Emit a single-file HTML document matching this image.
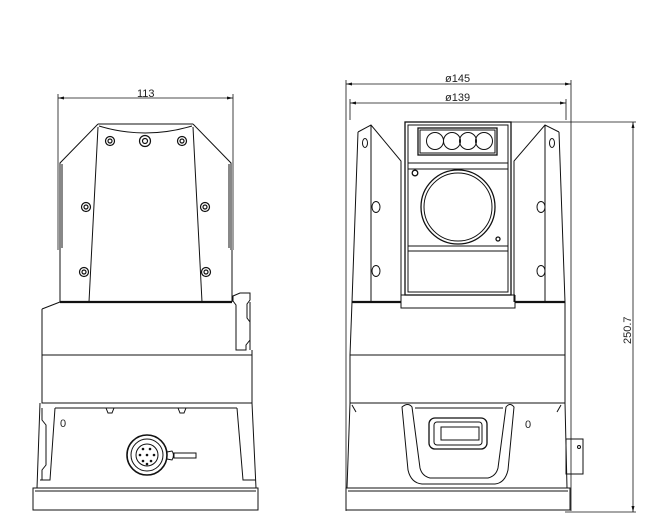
<!DOCTYPE html>
<html><head><meta charset="utf-8"><style>
html,body{margin:0;padding:0;background:#fff;width:662px;height:524px;overflow:hidden}
svg{display:block}
text{font-family:"Liberation Sans",sans-serif;font-size:11px;fill:#222}
</style></head><body>
<svg width="662" height="524" viewBox="0 0 662 524" xmlns="http://www.w3.org/2000/svg" fill="none" stroke="#111" stroke-width="1">
<!-- LEFT VIEW -->
<line x1="58" y1="98" x2="233" y2="98" stroke-width="0.8"/>
<line x1="58" y1="94" x2="58" y2="250" stroke-width="0.8"/>
<line x1="233" y1="94" x2="233" y2="250" stroke-width="0.8"/>
<path d="M58 98 l6 -1.5 v3 z M233 98 l-6 -1.5 v3 z" fill="#111" stroke="none"/>
<text x="137" y="97" stroke="none">113</text>
<!-- top cap -->
<path d="M98 124 H193 M99 126 Q145 140 192 126"/>
<path d="M98 124 L60 163 V250 M62 164 V248"/>
<path d="M193 124 L231 163 V250 M229 164 V248"/>
<path d="M60 250 V302 M232 250 V302"/>
<path d="M98 127 L89 302 M193 127 L202 302"/>
<line x1="60" y1="302" x2="232" y2="302" stroke-width="2.2"/>
<path d="M42 309 L60 302"/>
<g stroke-width="1.2">
<circle cx="110" cy="141" r="4.5"/><circle cx="110" cy="141" r="2"/>
<circle cx="145" cy="141" r="5.5"/><circle cx="145" cy="141" r="2.5"/>
<circle cx="182" cy="141" r="4.5"/><circle cx="182" cy="141" r="2"/>
<circle cx="86" cy="207" r="4.5"/><circle cx="86" cy="207" r="2"/>
<circle cx="205" cy="207" r="4.5"/><circle cx="205" cy="207" r="2"/>
<circle cx="84" cy="272" r="4.5"/><circle cx="84" cy="272" r="2"/>
<circle cx="206" cy="272" r="4.5"/><circle cx="206" cy="272" r="2"/>
</g>
<!-- clip -->
<path d="M233 296 L240 293 H250 V300 L247 304 V318 L250 322 V340 L246 345 V350 H236 V305 L233 301 Z"/>
<!-- middle -->
<path d="M42 309 V403 H252 V350 M42 355 H252"/>
<path d="M250 302 V350"/>
<!-- lower -->
<path d="M40 403 L37 488 M252 403 L256 488"/>
<path d="M55 408 L50 480 H40 M237 408 L243 480 H256"/>
<path d="M55 408 H237"/>
<path d="M106 408 L108 413 H112 L114 408 M178 408 L180 413 H184 L186 408"/>
<path d="M42 408 V420 L46 425 V465 L42 470 V480"/>
<text x="60" y="427" stroke="none" font-size="9">0</text>
<circle cx="147" cy="455" r="20" stroke-width="1.6"/>
<circle cx="147" cy="455" r="16"/>
<circle cx="147" cy="455" r="11"/>
<g fill="#111" stroke="none">
<circle cx="143" cy="449" r="1.3"/><circle cx="150" cy="449" r="1.3"/><circle cx="154" cy="455" r="1.3"/>
<circle cx="140" cy="455" r="1.3"/><circle cx="147" cy="455" r="1.3"/><circle cx="143" cy="461" r="1.3"/>
<circle cx="151" cy="461" r="1.3"/><circle cx="147" cy="464" r="1.3"/>
</g>
<path d="M167 452 L172 451 Q175 455 172 460 L167 459"/>
<rect x="174" y="453" width="22" height="5"/>
<path d="M33 488 H258 V510 H33 Z M35 491 H256" />
<!-- RIGHT VIEW -->
<line x1="346" y1="84" x2="571" y2="84" stroke-width="0.8"/>
<line x1="350" y1="103" x2="566" y2="103" stroke-width="0.8"/>
<path d="M346 84 l6 -1.5 v3z M571 84 l-6 -1.5 v3z M350 103 l6 -1.5 v3z M566 103 l-6 -1.5 v3z" fill="#111" stroke="none"/>
<text x="445" y="82" stroke="none">ø145</text>
<text x="445" y="101" stroke="none">ø139</text>
<line x1="346" y1="80" x2="346" y2="511" stroke-width="0.8"/>
<line x1="571" y1="80" x2="571" y2="511" stroke-width="0.8"/>
<line x1="350" y1="99" x2="350" y2="120" stroke-width="0.8"/>
<line x1="566" y1="99" x2="566" y2="120" stroke-width="0.8"/>
<line x1="510" y1="122" x2="636" y2="122" stroke-width="0.8"/>
<line x1="633" y1="122" x2="633" y2="512" stroke-width="0.8"/>
<line x1="565" y1="512" x2="636" y2="512" stroke-width="0.8"/>
<path d="M633 122 l-1.5 6 h3z M633 512 l-1.5 -6 h3z" fill="#111" stroke="none"/>
<text x="0" y="0" stroke="none" transform="translate(631 344) rotate(-90)">250.7</text>
<!-- wings -->
<path d="M358 132 L371 125 L401 161 V302 M371 125 V302 M358 132 L352 302"/>
<path d="M559 132 L545 125 L514 161 V302 M545 125 V302 M559 132 L565 302"/>
<ellipse cx="365" cy="143" rx="2.5" ry="4.5"/>
<ellipse cx="376" cy="207" rx="4" ry="5.5"/>
<ellipse cx="376" cy="271" rx="4" ry="5.5"/>
<ellipse cx="552" cy="143" rx="2.5" ry="4.5"/>
<ellipse cx="541" cy="207" rx="4" ry="5.5"/>
<ellipse cx="541" cy="271" rx="4" ry="5.5"/>
<!-- head -->
<rect x="405" y="122" width="106" height="173" stroke-width="1.3"/>
<rect x="408" y="125" width="100" height="167"/>
<rect x="418" y="128" width="79" height="27" stroke-width="1.3"/>
<rect x="420" y="130" width="75" height="23"/>
<circle cx="435" cy="141" r="8.5"/><circle cx="452" cy="141" r="8.5"/><circle cx="468" cy="141" r="8.5"/><circle cx="484" cy="141" r="8.5"/>
<path d="M408 163 H508 M408 169 H508 M408 246 H508 M408 251 H508"/>
<circle cx="458" cy="207" r="37" stroke-width="1.3"/>
<circle cx="458" cy="207" r="34"/>
<circle cx="415" cy="173" r="2.8" stroke-width="1.3"/>
<circle cx="498" cy="239" r="2" stroke-width="1.3"/>
<path d="M401 295 H515 M401 295 V308 H515 V295"/>
<line x1="352" y1="302" x2="401" y2="302" stroke-width="2.2"/>
<line x1="515" y1="302" x2="565" y2="302" stroke-width="2.2"/>
<!-- middle -->
<path d="M352 302 L350 355 V403 H565 V355 L565 302 M350 355 H565"/>
<!-- lower -->
<path d="M350 403 L347 488 M565 403 L567 488"/>
<path d="M352 405 L356 412 M561 405 L557 412"/>
<path d="M402 407 Q408 402 412 407 L420 468 Q422 476 430 478 H488 Q496 476 498 468 L506 407 Q510 402 514 407 L508 470 Q505 483 495 484 H422 Q411 483 408 470 Z"/>
<path d="M415 408 H503"/>
<rect x="429" y="418" width="58" height="31" rx="6" stroke-width="1.3"/>
<rect x="434" y="422" width="48" height="23" rx="3"/>
<rect x="441" y="427" width="38" height="13"/>
<text x="525" y="428" stroke="none" font-size="9">0</text>
<rect x="566" y="439" width="17" height="35"/>
<circle cx="579" cy="447" r="1.5"/>
<path d="M346 488 H570 V510 H346 Z M348 491 H568"/>
</svg>
</body></html>
